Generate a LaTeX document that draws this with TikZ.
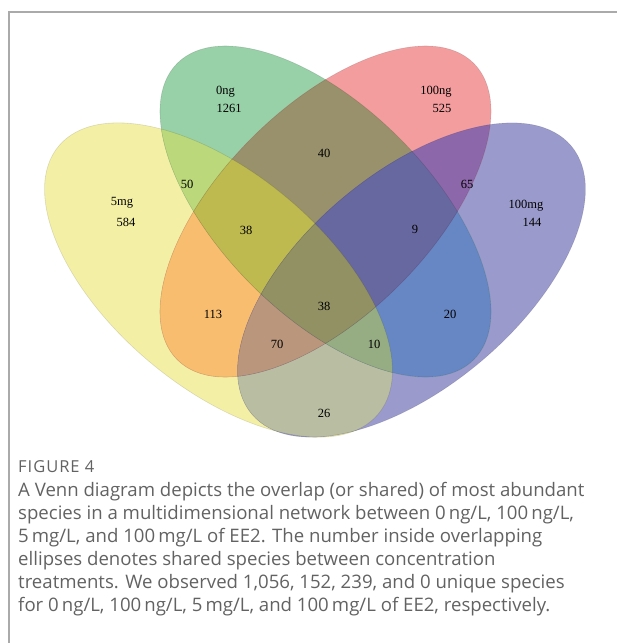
\documentclass[tikz,border=0pt]{standalone}
\usepackage{fontspec}
\setmainfont{Liberation Serif}
\newfontfamily\capfont{Open Sans}
\newfontfamily\figfont[LetterSpace=6]{Open Sans}
\definecolor{cA}{RGB}{243,240,165}
\definecolor{cB}{RGB}{152,208,168}
\definecolor{cC}{RGB}{243,157,158}
\definecolor{cD}{RGB}{154,155,204}
\definecolor{cAB}{RGB}{187,216,122}
\definecolor{cBC}{RGB}{152,145,108}
\definecolor{cCD}{RGB}{140,104,170}
\definecolor{cAD}{RGB}{185,189,161}
\definecolor{cAC}{RGB}{248,189,110}
\definecolor{cBD}{RGB}{102,135,196}
\definecolor{cABC}{RGB}{190,186,80}
\definecolor{cBCD}{RGB}{104,104,160}
\definecolor{cABD}{RGB}{150,172,130}
\definecolor{cACD}{RGB}{186,150,125}
\definecolor{cABCD}{RGB}{146,145,100}
\definecolor{capgray}{RGB}{98,98,98}
\definecolor{framegray}{RGB}{170,170,170}
\newcommand\EA{(218.5,-280) circle[x radius=208.5, y radius=107, rotate=-40]}
\newcommand\ED{(411.5,-280) circle[x radius=208.5, y radius=107, rotate=40]}
\newcommand\EB{(325.5,-211.5) circle[x radius=209.6, y radius=104.1, rotate=-45]}
\newcommand\EC{(325.5,-211.5) circle[x radius=209.6, y radius=104.1, rotate=45]}
\begin{document}
\begin{tikzpicture}[x=1pt,y=1pt,
  lbl/.style={font=\fontsize{12.5}{13}\selectfont, text=black, inner sep=0pt},
  edge/.style={draw=black, draw opacity=0.12, line width=0.6pt}]
\useasboundingbox (0,0) rectangle (617,-643);
% single sets
\fill[cA] \EA;
\fill[cD] \ED;
\fill[cB] \EB;
\fill[cC] \EC;
% pairs
\begin{scope}\clip \EA; \fill[cAB] \EB; \end{scope}
\begin{scope}\clip \EA; \fill[cAC] \EC; \end{scope}
\begin{scope}\clip \EA; \fill[cAD] \ED; \end{scope}
\begin{scope}\clip \EB; \fill[cBC] \EC; \end{scope}
\begin{scope}\clip \EB; \fill[cBD] \ED; \end{scope}
\begin{scope}\clip \EC; \fill[cCD] \ED; \end{scope}
% triples
\begin{scope}\clip \EA; \clip \EB; \fill[cABC] \EC; \end{scope}
\begin{scope}\clip \EA; \clip \EB; \fill[cABD] \ED; \end{scope}
\begin{scope}\clip \EA; \clip \EC; \fill[cACD] \ED; \end{scope}
\begin{scope}\clip \EB; \clip \EC; \fill[cBCD] \ED; \end{scope}
% quadruple
\begin{scope}\clip \EA; \clip \EB; \clip \EC; \fill[cABCD] \ED; \end{scope}
% faint outlines
\path[edge] \EA; \path[edge] \ED; \path[edge] \EB; \path[edge] \EC;
% labels
\node[lbl] (n0ng) at (225.5,-92) {0ng};
\node[lbl] (v0ng) at (229,-108) {1261};
\node[lbl] (n100ng) at (436,-92) {100ng};
\node[lbl] (v100ng) at (442,-108) {525};
\node[lbl] (n5mg) at (122,-203) {5mg};
\node[lbl] (v5mg) at (126,-222) {584};
\node[lbl] (n100mg) at (526,-206) {100mg};
\node[lbl] (v100mg) at (532,-222) {144};
\node[lbl] (vAB) at (187,-184) {50};
\node[lbl] (vBC) at (324,-153) {40};
\node[lbl] (vCD) at (467,-184) {65};
\node[lbl] (vABC) at (246,-230) {38};
\node[lbl] (vBCD) at (415,-229) {9};
\node[lbl] (vAC) at (213,-314) {113};
\node[lbl] (vABCD) at (324,-306) {38};
\node[lbl] (vBD) at (450,-314) {20};
\node[lbl] (vACD) at (277,-344) {70};
\node[lbl] (vABD) at (374,-344) {10};
\node[lbl] (vAD) at (324,-413) {26};
% frame
\coordinate (fTL) at (9,-12);
\coordinate (fTR) at (617,-12);
\coordinate (fBL) at (9,-643);
\draw[framegray, line width=1.2pt] (fBL) -- (fTL) -- (fTR);
% caption
\node[anchor=base west, inner sep=0pt, text=capgray, font=\figfont\fontsize{16.5}{18}\selectfont] (fig) at (18,-472) {FIGURE 4};
\node[anchor=north west, inner sep=0pt, align=left, text=capgray, font=\capfont\fontsize{18.6}{23}\selectfont] (cap) at (18,-482) {A Venn diagram depicts the overlap (or shared) of most abundant\\
species in a multidimensional network between 0\,ng/L, 100\,ng/L,\\
5\,mg/L, and 100\,mg/L of EE2. The number inside overlapping\\
ellipses denotes shared species between concentration\\
treatments. We observed 1,056, 152, 239, and 0 unique species\\
for 0\,ng/L, 100\,ng/L, 5\,mg/L, and 100\,mg/L of EE2, respectively.};
\end{tikzpicture}
\end{document}
